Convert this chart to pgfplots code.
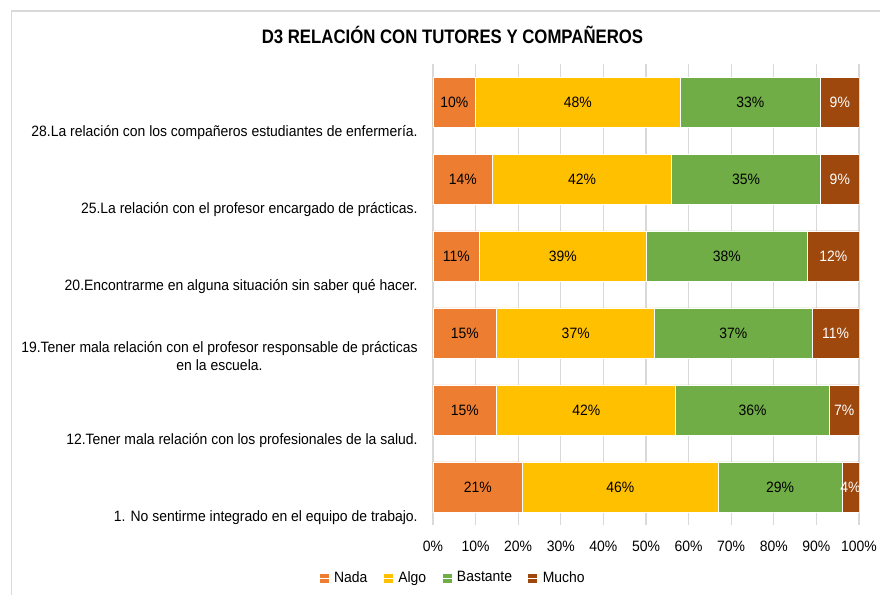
\documentclass[border=0pt]{standalone}
\usepackage{fontspec}
\setmainfont{Liberation Sans}[FakeStretch=0.93]
\newfontfamily\titlefont{Liberation Sans}[FakeStretch=0.86]
\usepackage{pgfplots}
\pgfplotsset{compat=1.18}
\usepackage{pgfplotstable}

\definecolor{nada}{HTML}{ED7D31}
\definecolor{algo}{HTML}{FFC000}
\definecolor{bastante}{HTML}{70AD47}
\definecolor{mucho}{HTML}{9E480E}
\definecolor{gridgray}{HTML}{D9D9D9}

% pos 0 = bottom item (1.), pos 5 = top item (28.)
\pgfplotstableread{
pos nada algo bastante mucho
0   21   46   29       4
1   15   42   36       7
2   15   37   37       11
3   11   39   38       12
4   14   42   35       9
5   10   48   33       9
}\respuestas

\newcommand\lbl{\fontsize{7.5}{9}\selectfont}

\begin{document}
\begin{tikzpicture}
\useasboundingbox (0,0) rectangle (440pt,297.5pt);
\draw[gridgray, line width=0.8pt] (5.75pt,0) -- (5.75pt,292pt) -- (440pt,292pt);
\node[font=\titlefont\bfseries\fontsize{9.75}{11}\selectfont] at (226.25pt,280pt)
  {D3 RELACIÓN CON TUTORES Y COMPAÑEROS};
\begin{axis}[
  at={(216.5pt,34.75pt)}, anchor=south west,
  scale only axis, width=213pt, height=231pt,
  xbar stacked, bar width=25pt,
  xmin=0, xmax=100, ymin=-0.5, ymax=5.5,
  /pgf/number format/assume math mode=true,
  xtick={0,10,...,100},
  xticklabel={\pgfmathprintnumber{\tick}\%},
  xticklabel style={anchor=base, yshift=-13pt},
  ytick={0,...,5},
  yticklabels={
    {1. No sentirme integrado en el equipo de trabajo.},
    {12.Tener mala relación con los profesionales de la salud.},
    {19.Tener mala relación con el profesor responsable de prácticas\\en la escuela.},
    {20.Encontrarme en alguna situación sin saber qué hacer.},
    {25.La relación con el profesor encargado de prácticas.},
    {28.La relación con los compañeros estudiantes de enfermería.}},
  yticklabel style={anchor=south east, align=center, inner sep=0pt,
    xshift=-7.5pt, yshift=-19pt},
  every tick label/.append style={font=\lbl},
  major tick length=0pt,
  axis line style={draw=none},
  xmajorgrids, major grid style={gridgray, line width=0.6pt},
  point meta=explicit,
  nodes near coords={\pgfmathprintnumber{\pgfplotspointmeta}\%},
  nodes near coords align={center},
  every node near coord/.append style={font=\lbl, text=black},
  legend columns=4,
  legend style={at={(axis description cs:0.047,-0.114)}, anchor=center,
    draw=none, font=\lbl, inner sep=0pt, nodes={inner sep=1pt},
    /tikz/every even column/.append style={column sep=7pt}},
  legend image code/.code={\fill[#1, draw=none] (0pt,-2.25pt) rectangle (4.5pt,2.25pt);
    \path (0pt,0pt) -- (6pt,0pt);},
]
\addplot[fill=nada, draw=white, line width=0.4pt] table[x=nada, y=pos, meta=nada] {\respuestas};
\addlegendentry{Nada}
\addplot[fill=algo, draw=white, line width=0.4pt] table[x=algo, y=pos, meta=algo] {\respuestas};
\addlegendentry{Algo}
\addplot[fill=bastante, draw=white, line width=0.4pt] table[x=bastante, y=pos, meta=bastante] {\respuestas};
\addlegendentry{Bastante}
\addplot[fill=mucho, draw=white, line width=0.4pt,
  every node near coord/.append style={text=white}] table[x=mucho, y=pos, meta=mucho] {\respuestas};
\addlegendentry{Mucho}
\end{axis}
\end{tikzpicture}
\end{document}
